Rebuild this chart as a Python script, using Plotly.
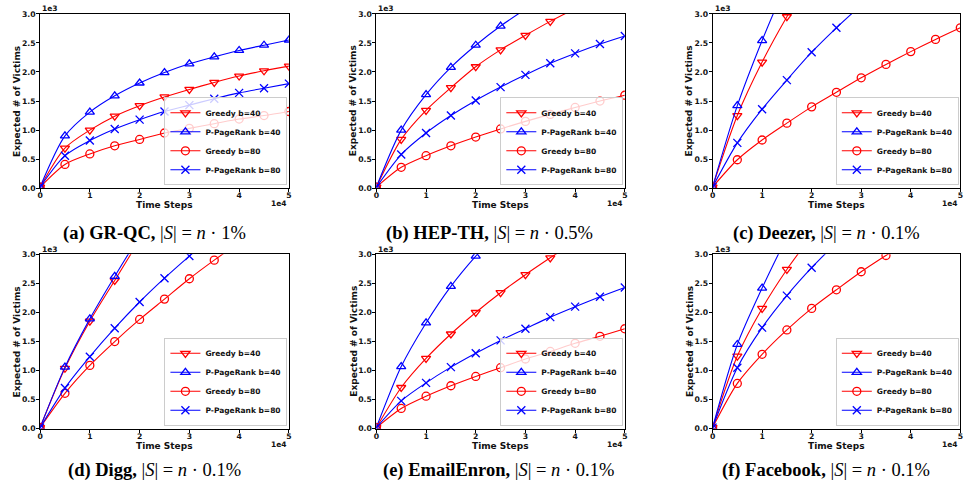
import plotly.graph_objects as go

W, H = 964, 491

# ---------------- data ----------------
time_steps = [0, 5000, 10000, 15000, 20000, 25000, 30000, 35000, 40000, 45000, 50000]
series_names = ["Greedy b=40", "P-PageRank b=40", "Greedy b=80", "P-PageRank b=80"]
x_tick_vals = [0, 10000, 20000, 30000, 40000, 50000]
x_tick_text = ["0", "1", "2", "3", "4", "5"]
y_tick_vals = [0, 500, 1000, 1500, 2000, 2500, 3000]
y_tick_text = ["0.0", "0.5", "1.0", "1.5", "2.0", "2.5", "3.0"]

captions = [
    "<b>(a) GR-QC,</b> |<i>S</i>| = <i>n</i> · 1%",
    "<b>(b) HEP-TH,</b> |<i>S</i>| = <i>n</i> · 0.5%",
    "<b>(c) Deezer,</b> |<i>S</i>| = <i>n</i> · 0.1%",
    "<b>(d) Digg,</b> |<i>S</i>| = <i>n</i> · 0.1%",
    "<b>(e) EmailEnron,</b> |<i>S</i>| = <i>n</i> · 0.1%",
    "<b>(f) Facebook,</b> |<i>S</i>| = <i>n</i> · 0.1%",
]

grqc_greedy40 = [20, 690, 1000, 1240, 1420, 1570, 1700, 1820, 1930, 2020, 2100]
grqc_ppr40 = [20, 900, 1310, 1590, 1810, 1990, 2140, 2260, 2370, 2460, 2550]
grqc_greedy80 = [20, 410, 590, 730, 840, 950, 1030, 1110, 1190, 1250, 1320]
grqc_ppr80 = [20, 560, 820, 1020, 1180, 1320, 1430, 1540, 1640, 1720, 1800]

hepth_greedy40 = [20, 840, 1340, 1730, 2090, 2380, 2630, 2870, 3090]
hepth_ppr40 = [20, 1000, 1610, 2080, 2460, 2790, 3080]
hepth_greedy80 = [20, 360, 560, 730, 880, 1020, 1150, 1270, 1390, 1500, 1600]
hepth_ppr80 = [20, 580, 950, 1250, 1510, 1740, 1950, 2150, 2320, 2480, 2620]

deezer_greedy40 = [20, 1250, 2170, 2950, 3650]
deezer_ppr40 = [20, 1420, 2540, 3550]
deezer_greedy80 = [20, 490, 830, 1120, 1400, 1650, 1900, 2130, 2350, 2560, 2760]
deezer_ppr80 = [20, 780, 1360, 1860, 2340, 2760, 3150]

digg_greedy40 = [20, 1040, 1850, 2550, 3250]
digg_ppr40 = [20, 1060, 1890, 2620, 3320]
digg_greedy80 = [20, 610, 1090, 1500, 1880, 2230, 2580, 2900, 3200]
digg_ppr80 = [20, 700, 1240, 1730, 2180, 2590, 2970, 3330]

enron_greedy40 = [20, 710, 1210, 1630, 2000, 2340, 2650, 2940, 3220]
enron_ppr40 = [20, 1070, 1820, 2450, 2970, 3420]
enron_greedy80 = [20, 350, 560, 740, 900, 1050, 1200, 1330, 1470, 1590, 1720]
enron_ppr80 = [20, 480, 790, 1060, 1300, 1520, 1720, 1920, 2100, 2270, 2430]

facebook_greedy40 = [20, 1250, 2070, 2740, 3320]
facebook_ppr40 = [20, 1450, 2420, 3300]
facebook_greedy80 = [20, 780, 1280, 1700, 2070, 2390, 2700, 2980, 3250]
facebook_ppr80 = [20, 1050, 1740, 2290, 2770, 3200]

panels = [
    [grqc_greedy40, grqc_ppr40, grqc_greedy80, grqc_ppr80],
    [hepth_greedy40, hepth_ppr40, hepth_greedy80, hepth_ppr80],
    [deezer_greedy40, deezer_ppr40, deezer_greedy80, deezer_ppr80],
    [digg_greedy40, digg_ppr40, digg_greedy80, digg_ppr80],
    [enron_greedy40, enron_ppr40, enron_greedy80, enron_ppr80],
    [facebook_greedy40, facebook_ppr40, facebook_greedy80, facebook_ppr80],
]

# ---------------- styling ----------------
colors = ["#ff0000", "#0000ff", "#ff0000", "#0000ff"]
symbols = ["triangle-down-open", "triangle-up-open", "circle-open", "x-thin-open"]
msizes = [8, 8, 8, 8]

col_px = [(37.3, 287.7), (375.7, 625.7), (714.0, 963.3)]
row_px = [(10.0, 187.7), (255.0, 432.7)]
cap_x_px = [152, 490, 829, 152, 499, 828]
cap_y_px = [234, 475]

def fx(px):
    return px / W

def fy(py):
    return 1 - py / H

FONT = "DejaVu Sans"
SERIF = "Liberation Serif"

fig = go.Figure()
layout = dict(
    width=W, height=H,
    margin=dict(l=0, r=0, t=0, b=0),
    paper_bgcolor="white", plot_bgcolor="white",
    showlegend=True,
    font=dict(family=FONT, color="black"),
)
annotations = []

for k, series in enumerate(panels):
    r, c = divmod(k, 3)
    x0, x1 = col_px[c]
    yt, yb = row_px[r]
    sfx = "" if k == 0 else str(k + 1)
    xa, ya = "x" + sfx, "y" + sfx
    leg = "legend" + sfx

    axis_common = dict(
        showgrid=False, zeroline=False, showline=True, mirror=True,
        linecolor="black", linewidth=1,
        ticks="outside", ticklen=3, tickwidth=1, tickcolor="black",
        tickfont=dict(family=FONT, size=7.7, weight="bold", color="#111"),
    )
    layout["xaxis" + sfx] = dict(
        axis_common, domain=[fx(x0), fx(x1)], range=[0, 50000],
        tickvals=x_tick_vals, ticktext=x_tick_text, anchor=ya,
        ticklabelstandoff=-3,
    )
    layout["yaxis" + sfx] = dict(
        axis_common, domain=[fy(yb), fy(yt)], range=[0, 3000],
        tickvals=y_tick_vals, ticktext=y_tick_text, anchor=xa,
        ticklabelstandoff=-1,
    )
    layout[leg] = dict(
        x=fx(x1 - 1.5), y=fy(yb - 3), xanchor="right", yanchor="bottom",
        bgcolor="rgba(255,255,255,0.8)", bordercolor="#cccccc", borderwidth=1,
        font=dict(family=FONT, size=7.5, weight="bold", color="#111"),
        tracegroupgap=0, itemwidth=30,
    )

    for j, ys in enumerate(series):
        fig.add_trace(go.Scatter(
            x=time_steps[:len(ys)], y=ys, mode="lines+markers",
            name=series_names[j], legend=leg, xaxis=xa, yaxis=ya,
            line=dict(color=colors[j], width=1.1, shape="spline", smoothing=0.8),
            marker=dict(symbol=symbols[j], size=msizes[j], color=colors[j],
                        line=dict(color=colors[j], width=1.3)),
        ))

    xc = (x0 + x1) / 2
    yc = (yt + yb) / 2
    annotations.append(dict(
        text="<b>Expected # of Victims</b>", x=fx(x0 - 23.3), y=fy(yc),
        xref="paper", yref="paper", textangle=-90, showarrow=False,
        xanchor="center", yanchor="middle",
        font=dict(family=FONT, size=9, color="#111"),
    ))
    annotations.append(dict(
        text="<b>Time Steps</b>", x=fx(xc), y=fy(yb + 17.5),
        xref="paper", yref="paper", showarrow=False,
        xanchor="center", yanchor="middle",
        font=dict(family=FONT, size=9, color="#111"),
    ))
    annotations.append(dict(
        text="<b>1e3</b>", x=fx(x0), y=fy(yt - 5),
        xref="paper", yref="paper", showarrow=False,
        xanchor="left", yanchor="middle",
        font=dict(family=FONT, size=7.5, color="#111"),
    ))
    annotations.append(dict(
        text="<b>1e4</b>", x=fx(min(x1, W)), y=fy(yb + 16),
        xref="paper", yref="paper", showarrow=False,
        xanchor="right", yanchor="middle",
        font=dict(family=FONT, size=7.5, color="#111"),
    ))
    annotations.append(dict(
        text=captions[k], x=fx(cap_x_px[k]), y=fy(cap_y_px[r]),
        xref="paper", yref="paper", showarrow=False,
        xanchor="center", yanchor="middle",
        font=dict(family=SERIF, size=18.5, color="black"),
    ))

layout["annotations"] = annotations
fig.update_layout(**layout)
fig.write_html("out.html", config={"displayModeBar": False, "staticPlot": True})

# remove the default page margin so the figure sits at the page's top-left corner
with open("out.html", "r", encoding="utf-8") as fh:
    page = fh.read()
page = page.replace("<head>", "<head><style>html,body{margin:0;padding:0;overflow:hidden;}</style>", 1)
with open("out.html", "w", encoding="utf-8") as fh:
    fh.write(page)
